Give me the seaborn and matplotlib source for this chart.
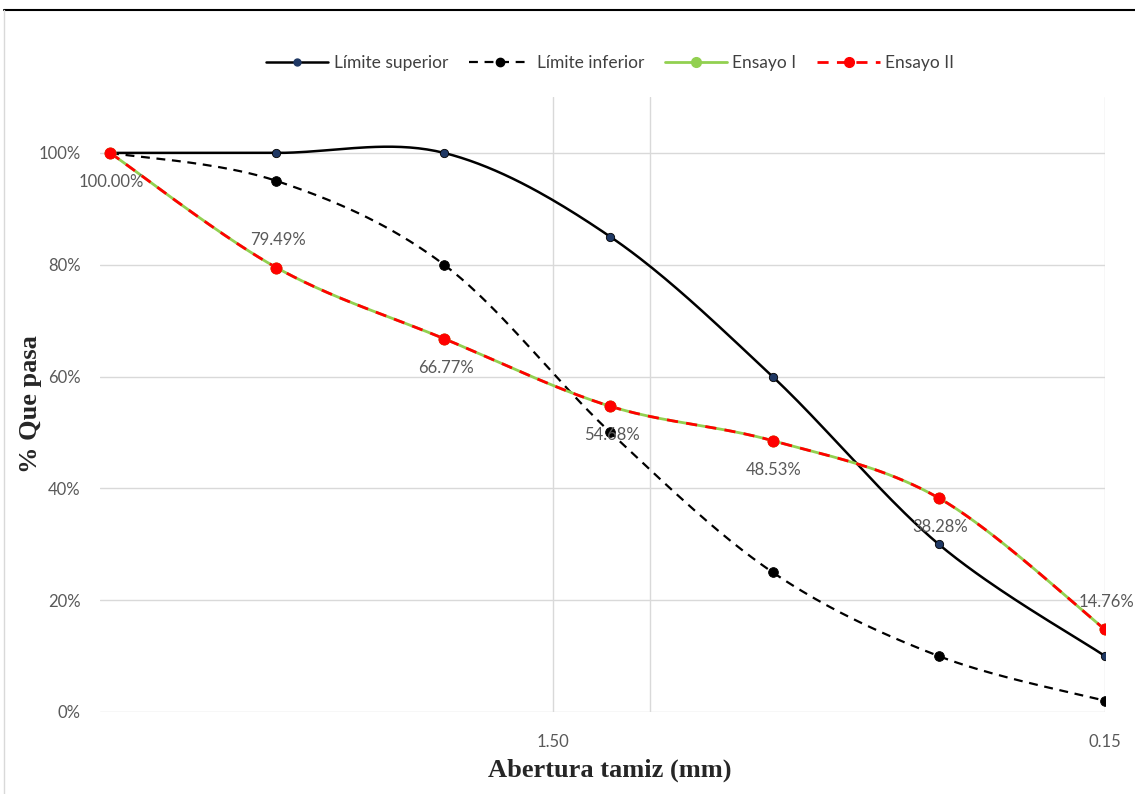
import numpy as np
import pandas as pd
import seaborn as sns
import matplotlib.pyplot as plt
from matplotlib.lines import Line2D

# abertura de tamices (mm) y % que pasa
aberturas = [9.5, 4.75, 2.36, 1.18, 0.6, 0.3, 0.15]
lim_superior = [100, 100, 100, 85, 60, 30, 10]
lim_inferior = [100, 95, 80, 50, 25, 10, 2]
ensayo_1 = [100.00, 79.49, 66.77, 54.68, 48.53, 38.28, 14.76]
ensayo_2 = [100.00, 79.49, 66.77, 54.68, 48.53, 38.28, 14.76]
etiquetas_arriba = [False, True, False, False, False, False, True]

x_ticks = [1.5, 0.15]
x_ticklabels = ['1.50', '0.15']
y_ticks = [0, 20, 40, 60, 80, 100]


def suavizar(x, y, n=40):
    # curva tipo Excel (Catmull-Rom) en espacio log(x), y
    lx = np.log10(np.asarray(x, float))
    yy = np.asarray(y, float)
    P = np.column_stack([lx, yy])
    P = np.vstack([P[0], P, P[-1]])
    out = []
    t = np.linspace(0, 1, n)
    for i in range(1, len(P) - 2):
        p0, p1, p2, p3 = P[i - 1], P[i], P[i + 1], P[i + 2]
        c1 = p1 + (p2 - p0) / 6
        c2 = p2 - (p3 - p1) / 6
        seg = ((1 - t) ** 3)[:, None] * p1 + (3 * (1 - t) ** 2 * t)[:, None] * c1 \
            + (3 * (1 - t) * t ** 2)[:, None] * c2 + (t ** 3)[:, None] * p2
        out.append(seg if i == 1 else seg[1:])
    s = np.vstack(out)
    return 10 ** s[:, 0], s[:, 1]


sns.set_style('white')
plt.rcParams['font.family'] = ['Lato', 'DejaVu Sans']

fig = plt.figure(figsize=(11.35, 7.94), dpi=100)
ax = fig.add_axes([100 / 1135, 82 / 794, 1005 / 1135, 615 / 794])
ax.set_xscale('log')
ax.set_xlim(9.91, 0.15)
ax.set_ylim(0, 110)

for y in y_ticks:
    ax.axhline(y, color='#d9d9d9', lw=1, zorder=0)
for xv in [1.5, 1.0, 0.15]:
    ax.axvline(xv, color='#d9d9d9', lw=1, zorder=0)

series = [
    ('Límite superior', lim_superior, 'black', '-', '#1f3864', 6, 1.8),
    ('Límite inferior', lim_inferior, 'black', (0, (4, 3)), 'black', 7, 1.6),
    ('Ensayo I', ensayo_1, '#92d050', '-', '#92d050', 8, 2.0),
    ('Ensayo II', ensayo_2, '#ff0000', (0, (4, 3)), '#ff0000', 8, 2.0),
]

handles = []
for name, vals, col, ls, mcol, ms, lw in series:
    xs, ys = suavizar(aberturas, vals)
    sns.lineplot(x=xs, y=ys, sort=False, color=col, linestyle=ls, lw=lw, ax=ax, zorder=3)
    sns.scatterplot(x=aberturas, y=vals, color=mcol, s=ms ** 2, edgecolor='black' if mcol == '#1f3864' else mcol,
                    linewidth=0.6, ax=ax, zorder=4)
    handles.append(Line2D([], [], color=col, linestyle=ls, lw=lw, marker='o', markersize=ms - 1,
                          markerfacecolor=mcol, markeredgecolor=mcol, label=name))

for xv, yv, up in zip(aberturas, ensayo_2, etiquetas_arriba):
    ax.annotate(f'{yv:.2f}%', (xv, yv), xytext=(1, 20 if up else -21), textcoords='offset points',
                ha='center', va='center', fontsize=12, color='#595959', zorder=5)

ax.set_xticks(x_ticks)
ax.set_xticklabels(x_ticklabels)
ax.minorticks_off()
ax.set_yticks(y_ticks)
ax.set_yticklabels([f'{v}%' for v in y_ticks])
ax.tick_params(axis='both', length=0, labelsize=12, labelcolor='#595959')
ax.tick_params(axis='y', pad=14)
ax.tick_params(axis='x', pad=16)
for s in ax.spines.values():
    s.set_visible(False)

ax.set_xlabel('Abertura tamiz (mm)', family='Liberation Serif', fontweight='bold', fontsize=19)
ax.set_ylabel('% Que pasa', family='Liberation Serif', fontweight='bold', fontsize=19)
ax.xaxis.set_label_coords(510 / 1005, -58 / 615)
ax.yaxis.set_label_coords(-70 / 1005, 0.5)
ax.xaxis.label.set_va('center')
ax.yaxis.label.set_va('center')

fig.legend(handles=handles, loc='center', bbox_to_anchor=(610 / 1135, 1 - 63 / 794), ncol=4, frameon=False,
           fontsize=12.5, handlelength=3.6, columnspacing=1.2, handletextpad=0.3, labelcolor='#404040')

# borde del recorte
fig.add_artist(Line2D([4 / 1135, 1], [1 - 10 / 794] * 2, color='black', lw=1.5))
fig.add_artist(Line2D([4 / 1135] * 2, [0, 1 - 10 / 794], color='#d9d9d9', lw=1))

fig.savefig('out.png', dpi=100)
